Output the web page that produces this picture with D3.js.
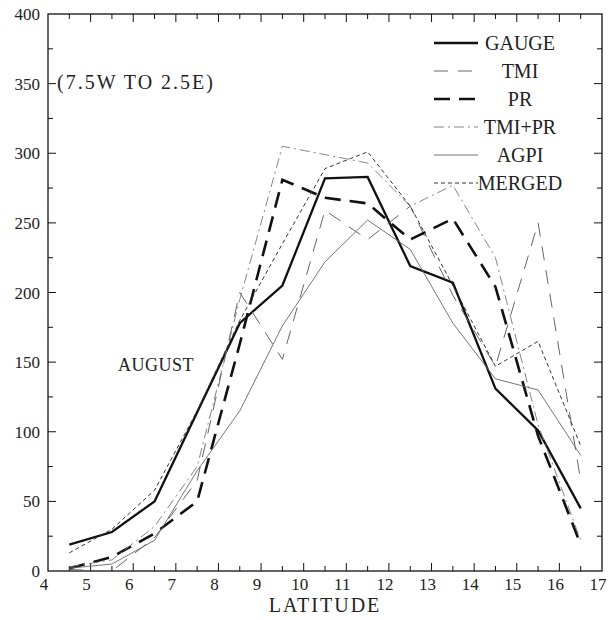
<!DOCTYPE html>
<html>
<head>
<meta charset="utf-8">
<script src="https://cdn.jsdelivr.net/npm/d3@7"></script>
<style>
  body { margin: 0; background: #fff; }
  text { font-family: "Liberation Serif", "DejaVu Serif", serif; fill: #222; }
</style>
</head>
<body>
<div id="chart"></div>
<script>
// data (latitude bins, mm)
var latitude = [4.5, 5.5, 6.5, 7.5, 8.5, 9.5, 10.5, 11.5, 12.5, 13.5, 14.5, 15.5, 16.5];
var gauge  = [19, 28, 50, 114, 178, 205, 282, 283, 219, 207, 131, 101, 45];
var tmi    = [1, 0, 24, 65, 200, 152, 259, 238, 262, 198, 147, 250, 65];
var pr     = [2, 10, 27, 50, 163, 281, 268, 264, 238, 253, 204, 97, 19];
var tmiPr  = [3, 8, 32, 75, 195, 305, 299, 293, 262, 277, 225, 105, 22];
var agpi   = [2, 5, 22, 72, 115, 176, 222, 252, 231, 178, 138, 130, 83];
var merged = [13, 30, 58, 115, 180, 235, 289, 301, 262, 205, 147, 165, 90];

var xTicks = [4, 5, 6, 7, 8, 9, 10, 11, 12, 13, 14, 15, 16, 17];
var yTicks = [0, 50, 100, 150, 200, 250, 300, 350, 400];

var series = [
  { name: "GAUGE",  values: gauge,  color: "#111", width: 2.3, dash: null },
  { name: "TMI",    values: tmi,    color: "#666", width: 1,   dash: "14,10" },
  { name: "PR",     values: pr,     color: "#111", width: 2.6, dash: "16,9" },
  { name: "TMI+PR", values: tmiPr,  color: "#777", width: 0.9, dash: "10,4,2,4" },
  { name: "AGPI",   values: agpi,   color: "#666", width: 0.9, dash: null },
  { name: "MERGED", values: merged, color: "#333", width: 1,   dash: "4,3" }
];

var svgWidth = 613;
var svgHeight = 620;

var margin = { top: 14, right: 11, bottom: 49, left: 48 };
var width = svgWidth - margin.left - margin.right;
var height = svgHeight - margin.top - margin.bottom;

var svg = d3.select("#chart")
  .append("svg")
  .attr("width", svgWidth)
  .attr("height", svgHeight);

var chartGroup = svg.append("g")
  .attr("transform", `translate(${margin.left}, ${margin.top})`);

var xScale = d3.scaleLinear().domain([4, 17]).range([0, width]);
var yScale = d3.scaleLinear().domain([0, 400]).range([height, 0]);

// frame
chartGroup.append("rect")
  .attr("width", width)
  .attr("height", height)
  .attr("fill", "none")
  .attr("stroke", "#111")
  .attr("stroke-width", 1.3);

// inward ticks on all four sides
var xMinor = d3.range(4.5, 17, 0.5);
var yMinor = d3.range(25, 400, 25);

chartGroup.selectAll("line.xtick")
  .data(xMinor)
  .enter()
  .append("line")
  .attr("class", "xtick")
  .attr("x1", d => xScale(d))
  .attr("x2", d => xScale(d))
  .attr("y1", height)
  .attr("y2", d => height - (d % 1 === 0 ? 8 : 5))
  .attr("stroke", "#111");

chartGroup.selectAll("line.xtickTop")
  .data(xMinor)
  .enter()
  .append("line")
  .attr("class", "xtickTop")
  .attr("x1", d => xScale(d))
  .attr("x2", d => xScale(d))
  .attr("y1", 0)
  .attr("y2", d => (d % 1 === 0 ? 8 : 5))
  .attr("stroke", "#111");

chartGroup.selectAll("line.ytick")
  .data(yMinor)
  .enter()
  .append("line")
  .attr("class", "ytick")
  .attr("x1", 0)
  .attr("x2", d => (d % 50 === 0 ? 8 : 5))
  .attr("y1", d => yScale(d))
  .attr("y2", d => yScale(d))
  .attr("stroke", "#111");

chartGroup.selectAll("line.ytickRight")
  .data(yMinor)
  .enter()
  .append("line")
  .attr("class", "ytickRight")
  .attr("x1", width)
  .attr("x2", d => width - (d % 50 === 0 ? 8 : 5))
  .attr("y1", d => yScale(d))
  .attr("y2", d => yScale(d))
  .attr("stroke", "#111");

// tick labels (sit a little left of their ticks, as in the original)
chartGroup.selectAll("text.xlabel")
  .data(xTicks)
  .enter()
  .append("text")
  .attr("class", "xlabel")
  .attr("x", d => xScale(d) - 4)
  .attr("y", height + 19)
  .attr("text-anchor", "middle")
  .attr("font-size", 17)
  .text(d => d);

chartGroup.selectAll("text.ylabel")
  .data(yTicks)
  .enter()
  .append("text")
  .attr("class", "ylabel")
  .attr("x", -8)
  .attr("y", d => yScale(d) + 6)
  .attr("text-anchor", "end")
  .attr("font-size", 17)
  .text(d => d);

chartGroup.append("text")
  .attr("x", width / 2)
  .attr("y", height + 41)
  .attr("text-anchor", "middle")
  .attr("font-size", 20)
  .attr("letter-spacing", 2)
  .text("LATITUDE");

// the lines
var line = d3.line()
  .x((d, i) => xScale(latitude[i]))
  .y(d => yScale(d));

chartGroup.selectAll("path.series")
  .data(series)
  .enter()
  .append("path")
  .attr("class", "series")
  .attr("d", d => line(d.values))
  .attr("fill", "none")
  .attr("stroke", d => d.color)
  .attr("stroke-width", d => d.width)
  .attr("stroke-dasharray", d => d.dash);

// annotations
chartGroup.append("text")
  .attr("x", 9)
  .attr("y", 75)
  .attr("font-size", 20)
  .attr("letter-spacing", 2)
  .text("(7.5W TO 2.5E)");

chartGroup.append("text")
  .attr("x", 70)
  .attr("y", 357)
  .attr("font-size", 18)
  .attr("letter-spacing", 0.5)
  .text("AUGUST");

// legend
var legend = chartGroup.selectAll("g.legend")
  .data(series)
  .enter()
  .append("g")
  .attr("class", "legend")
  .attr("transform", (d, i) => `translate(0, ${29 + i * 28})`);

legend.append("line")
  .attr("x1", 386)
  .attr("x2", 430)
  .attr("stroke", d => d.color)
  .attr("stroke-width", d => d.width)
  .attr("stroke-dasharray", d => d.dash);

legend.append("text")
  .attr("x", 472)
  .attr("y", 7)
  .attr("text-anchor", "middle")
  .attr("font-size", 20)
  .text(d => d.name);
</script>
</body>
</html>
